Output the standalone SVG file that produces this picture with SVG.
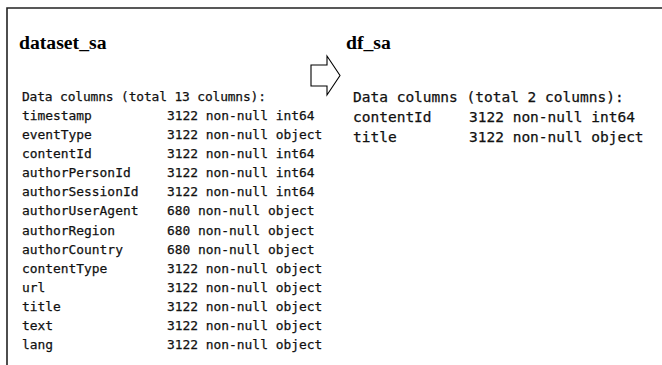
<svg xmlns="http://www.w3.org/2000/svg" width="662" height="365" viewBox="0 0 662 365">
<style>
.title{font-family:"Liberation Serif","Times New Roman",serif;font-weight:bold;font-size:19.7px;fill:#000}
.mono{font-family:"DejaVu Sans Mono","Liberation Mono",monospace;font-size:12.9px;fill:#111;stroke:#111;stroke-width:0.25}
.mono2{font-family:"DejaVu Sans Mono","Liberation Mono",monospace;font-size:14.5px;fill:#111;stroke:#111;stroke-width:0.25}
.frame{stroke:#222;stroke-width:1.6;fill:none}
.arrow{fill:#fff;stroke:#000;stroke-width:1.1;stroke-linejoin:miter}
</style>
<rect width="662" height="365" fill="#fff"/>
<path class="frame" d="M7,365 V8 H662"/>
<g id="dataset_sa">
<text class="title" x="19" y="49">dataset_sa</text>
<text class="mono" x="22" y="100.5" textLength="244" lengthAdjust="spacing">Data columns (total 13 columns):</text>
<g class="mono">
<text x="22" y="119.6">timestamp</text><text x="167" y="119.6">3122 non-null int64</text>
<text x="22" y="138.8">eventType</text><text x="167" y="138.8">3122 non-null object</text>
<text x="22" y="157.9">contentId</text><text x="167" y="157.9">3122 non-null int64</text>
<text x="22" y="177.1">authorPersonId</text><text x="167" y="177.1">3122 non-null int64</text>
<text x="22" y="196.2">authorSessionId</text><text x="167" y="196.2">3122 non-null int64</text>
<text x="22" y="215.4">authorUserAgent</text><text x="167" y="215.4">680 non-null object</text>
<text x="22" y="234.5">authorRegion</text><text x="167" y="234.5">680 non-null object</text>
<text x="22" y="253.7">authorCountry</text><text x="167" y="253.7">680 non-null object</text>
<text x="22" y="272.8">contentType</text><text x="167" y="272.8">3122 non-null object</text>
<text x="22" y="292">url</text><text x="167" y="292">3122 non-null object</text>
<text x="22" y="311.1">title</text><text x="167" y="311.1">3122 non-null object</text>
<text x="22" y="330.3">text</text><text x="167" y="330.3">3122 non-null object</text>
<text x="22" y="349.4">lang</text><text x="167" y="349.4">3122 non-null object</text>
</g>
</g>
<g id="df_sa">
<text class="title" x="346" y="49">df_sa</text>
<g class="mono2">
<text x="353" y="102">Data columns (total 2 columns):</text>
<text x="353" y="121.8">contentId</text><text x="469" y="121.8">3122 non-null int64</text>
<text x="353" y="141.5">title</text><text x="469" y="141.5">3122 non-null object</text>
</g>
</g>
<g id="connectors">
<polygon class="arrow" points="311,65 327,65 327,56 340,75.5 327,95 327,86 311,86"/>
</g>
</svg>
